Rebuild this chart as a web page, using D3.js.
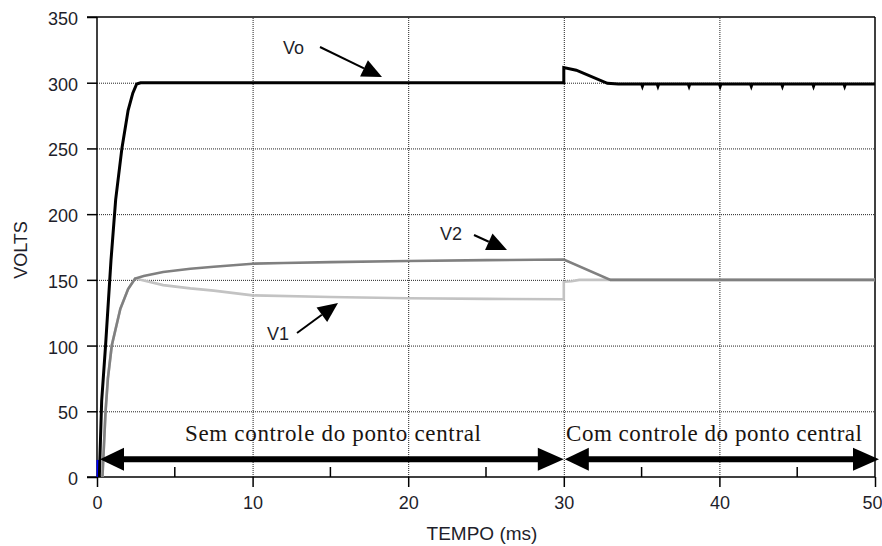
<!DOCTYPE html>
<html>
<head>
<meta charset="utf-8">
<script src="https://cdn.jsdelivr.net/npm/d3@7"></script>
<style>
  html, body { margin: 0; padding: 0; background: #ffffff; }
  svg { display: block; }
</style>
</head>
<body>
<svg id="chart" width="882" height="546"></svg>
<script>
// ---- data ----
const xTicks = [0, 10, 20, 30, 40, 50];
const xMinorTicks = [5, 15, 25, 35, 45];
const yTicks = [0, 50, 100, 150, 200, 250, 300, 350];

const voTime  = [0.15, 0.3, 0.55, 0.9, 1.2, 1.6, 2.0, 2.3, 2.55, 2.8, 30.0, 30.0, 30.8, 32.8, 33.5,
                 35.0, 35.05, 35.1, 36.0, 36.05, 36.1, 38.0, 38.05, 38.1, 40.0, 40.05, 40.1,
                 42.0, 42.05, 42.1, 44.0, 44.05, 44.1, 46.0, 46.05, 46.1, 48.0, 48.05, 48.1, 50];
const voValue = [0, 58, 100, 165, 211, 250, 279, 292, 299, 300, 300, 311.5, 309.5, 299.5, 299,
                 299, 297.3, 299, 299, 297.3, 299, 299, 297.3, 299, 299, 297.3, 299,
                 299, 297.3, 299, 299, 297.3, 299, 299, 297.3, 299, 299, 297.3, 299, 299];

const v2Time  = [0.35, 0.55, 0.7, 0.95, 1.5, 2.0, 2.45, 3.0, 4.25, 6, 7.5, 10, 12, 15, 20, 25, 30, 33, 50];
const v2Value = [0, 50, 75, 100, 128, 143, 151, 153, 156, 158.5, 160, 162.3, 162.8, 163.5, 164.3, 165, 165.5, 150, 150];

const v1Time  = [0.35, 0.55, 0.7, 0.95, 1.5, 2.0, 2.45, 3.0, 4.25, 6, 7.5, 10, 15, 20, 25, 30, 30, 30.5, 31, 50];
const v1Value = [0, 50, 75, 100, 128, 143, 151, 149.5, 146, 143.5, 141.8, 138.2, 137, 136, 135.5, 135.2, 148.5, 149, 150, 150];

const blueTime  = [0.05, 0.05];
const blueValue = [0, 13];

const rangeLabels = ["Sem controle do ponto central", "Com controle do ponto central"];
const rangeStart = [0, 30];
const rangeEnd   = [30, 50];
const rangeLevel = 13.5;

// ---- layout ----
const svg = d3.select("#chart");
const x = d3.scaleLinear().domain([0, 50]).range([97, 875]);
const y = d3.scaleLinear().domain([0, 350]).range([477, 17]);
const ink = "#1e1e2a";

// grid (dotted)
const grid = svg.append("g");
grid.selectAll("line.gy").data(yTicks.filter(d => d > 0 && d < 350)).enter().append("line")
  .attr("x1", x(0)).attr("x2", x(50))
  .attr("y1", d => y(d) + 0.5).attr("y2", d => y(d) + 0.5)
  .attr("stroke", "#222").attr("stroke-width", 1).attr("stroke-dasharray", "1,1");
grid.selectAll("line.gx").data(xTicks.filter(d => d > 0 && d < 50)).enter().append("line")
  .attr("x1", d => x(d) + 0.5).attr("x2", d => x(d) + 0.5)
  .attr("y1", y(0)).attr("y2", y(350))
  .attr("stroke", "#222").attr("stroke-width", 1).attr("stroke-dasharray", "1,1");

// axes
const yAxis = d3.axisLeft(y).tickValues(yTicks).tickSize(10).tickPadding(9).tickFormat(d3.format("d"));
const gy = svg.append("g").attr("transform", `translate(${x(0)},0)`).call(yAxis);
gy.select(".domain").remove();
gy.selectAll(".tick line").attr("stroke", "#000").attr("stroke-width", 1.5);
gy.selectAll(".tick text").attr("font-family", "Arial, 'Liberation Sans', sans-serif")
  .attr("font-size", 18).attr("fill", ink).attr("dy", "0.42em");

const xAxis = d3.axisBottom(x).tickValues(xTicks).tickSize(10).tickPadding(8).tickFormat(d3.format("d"));
const gx = svg.append("g").attr("transform", `translate(0,${y(0)})`).call(xAxis);
gx.select(".domain").remove();
gx.selectAll(".tick line").attr("stroke", "#000").attr("stroke-width", 1.5);
gx.selectAll(".tick text").attr("font-family", "Arial, 'Liberation Sans', sans-serif")
  .attr("font-size", 18).attr("fill", ink).attr("dy", "0.75em");
// last label sits against the right edge, as in the reference
gx.selectAll(".tick text").filter(d => d === 50).attr("text-anchor", "end").attr("dx", 7);

// minor x ticks (inside, upward)
svg.append("g").selectAll("line").data(xMinorTicks).enter().append("line")
  .attr("x1", d => x(d)).attr("x2", d => x(d))
  .attr("y1", y(0)).attr("y2", y(0) - 10)
  .attr("stroke", "#000").attr("stroke-width", 1.5);

// frame
svg.append("line").attr("x1", x(0) - 10).attr("x2", x(50)).attr("y1", y(0)).attr("y2", y(0)).attr("stroke", "#000").attr("stroke-width", 1.5);
svg.append("line").attr("x1", x(0) - 10).attr("x2", x(50)).attr("y1", y(350)).attr("y2", y(350)).attr("stroke", "#000").attr("stroke-width", 1.5);
svg.append("line").attr("x1", x(0)).attr("x2", x(0)).attr("y1", y(0)).attr("y2", y(350)).attr("stroke", "#000").attr("stroke-width", 1.5);
svg.append("line").attr("x1", x(50)).attr("x2", x(50)).attr("y1", y(0)).attr("y2", y(350)).attr("stroke", "#000").attr("stroke-width", 1.5);

// axis titles
svg.append("text").attr("x", 482).attr("y", 540).attr("text-anchor", "middle")
  .attr("font-family", "Arial, 'Liberation Sans', sans-serif").attr("font-size", 19).attr("fill", ink)
  .text("TEMPO (ms)");
svg.append("text").attr("transform", "translate(27,250) rotate(-90)").attr("text-anchor", "middle")
  .attr("font-family", "Arial, 'Liberation Sans', sans-serif").attr("font-size", 18).attr("fill", ink)
  .text("VOLTS");

// series
const line = d3.line().x(d => x(d[0])).y(d => y(d[1]));
function series(t, v, color, w) {
  svg.append("path").datum(t.map((d, i) => [d, v[i]]))
    .attr("d", line).attr("fill", "none").attr("stroke", color)
    .attr("stroke-width", w).attr("stroke-linejoin", "miter");
}
series(v1Time, v1Value, "#c3c3c3", 2.6);
series(v2Time, v2Value, "#808080", 2.6);
series(blueTime, blueValue, "#0000ff", 2.5);
series(voTime, voValue, "#000000", 3);

// range double arrows
function arrowHead(tipX, tipY, dir, len, half) {
  const bx = tipX - dir * len;
  svg.append("path")
    .attr("d", `M${tipX},${tipY} L${bx},${tipY - half} L${bx},${tipY + half} Z`)
    .attr("fill", "#000");
}
rangeLabels.forEach((lab, i) => {
  const x0 = x(rangeStart[i]), x1 = x(rangeEnd[i]), yy = y(rangeLevel);
  svg.append("line").attr("x1", x0 + 10).attr("x2", x1 - 10).attr("y1", yy).attr("y2", yy)
    .attr("stroke", "#000").attr("stroke-width", 6);
  arrowHead(x0 + (i === 0 ? 3 : 1), yy, -1, 24, 11.5);
  arrowHead(x1 + (i === 1 ? 4 : 0), yy, 1, 26, 11.5);
  const tx = i === 0 ? 185 : 566;
  svg.append("text").attr("x", tx).attr("y", 441)
    .attr("font-family", "'Liberation Serif', 'Times New Roman', serif").attr("font-size", 23)
    .attr("fill", "#1a1410")
    .attr("textLength", 296).attr("lengthAdjust", "spacing")
    .text(lab);
});

// series labels with pointer arrows
const labels = [
  {text: "Vo", lx: 283, ly: 54, x1: 320, y1: 47, x2: 382, y2: 77},
  {text: "V2", lx: 440, ly: 240, x1: 474, y1: 235, x2: 507, y2: 250},
  {text: "V1", lx: 267, ly: 340, x1: 297, y1: 333, x2: 338, y2: 303}
];
labels.forEach(l => {
  svg.append("text").attr("x", l.lx).attr("y", l.ly)
    .attr("font-family", "Arial, 'Liberation Sans', sans-serif").attr("font-size", 18).attr("fill", ink)
    .text(l.text);
  const ang = Math.atan2(l.y2 - l.y1, l.x2 - l.x1);
  const len = 20, half = 9;
  const bx = l.x2 - len * Math.cos(ang), by = l.y2 - len * Math.sin(ang);
  svg.append("line").attr("x1", l.x1).attr("y1", l.y1).attr("x2", bx).attr("y2", by)
    .attr("stroke", "#000").attr("stroke-width", 2);
  const px = -Math.sin(ang) * half, py = Math.cos(ang) * half;
  svg.append("path")
    .attr("d", `M${l.x2},${l.y2} L${bx + px},${by + py} L${bx - px},${by - py} Z`)
    .attr("fill", "#000");
});
</script>
</body>
</html>
